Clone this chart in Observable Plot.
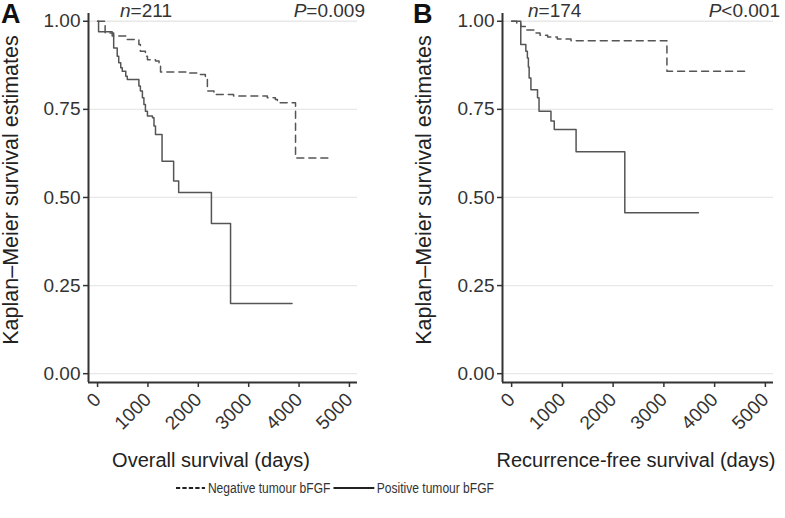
<!DOCTYPE html>
<html>
<head>
<meta charset="utf-8">
<script src="https://cdn.jsdelivr.net/npm/d3@7"></script>
<script src="https://cdn.jsdelivr.net/npm/@observablehq/plot@0.6"></script>
<style>
  html, body { margin: 0; padding: 0; background: #fff; }
  #wrap { position: relative; width: 785px; height: 518px; overflow: hidden; font-family: "Liberation Sans", Arial, sans-serif; color: #222; }
  #row { display: flex; }
  .panel { position: relative; }
  .letter { position: absolute; font-weight: bold; font-size: 27px; line-height: 1; top: 1px; color: #111; }
  .ann { position: absolute; font-size: 19px; line-height: 1; top: 1px; color: #333; white-space: nowrap; }
  #legend { position: absolute; top: 480px; left: 0; width: 670px; display: flex; justify-content: center; align-items: center; font-size: 14px; color: #333; transform: scaleX(0.86); transform-origin: 335px 50%; }
  #legend .item { display: flex; align-items: center; }
  #legend svg { margin: 0 3px 0 0; }
</style>
</head>
<body>
<div id="wrap">
  <div id="row">
    <div class="panel" id="pA"></div>
    <div class="panel" id="pB"></div>
  </div>
  <div id="legend"></div>
</div>
<script>
// ---------- data ----------
const panelLetters = ["A", "B"];
const nValues = ["211", "174"];
const pValues = ["=0.009", "<0.001"];
const xTitles = ["Overall survival (days)", "Recurrence-free survival (days)"];
const yTitle = "Kaplan\u2013Meier survival estimates";
const xTicks = [0, 1000, 2000, 3000, 4000, 5000];
const yTicks = [0, 0.25, 0.5, 0.75, 1];
const groups = ["Negative tumour bFGF", "Positive tumour bFGF"];

// Panel A: overall survival
const osNegDays = [0, 150, 320, 590, 820, 850, 950, 990, 1150, 1220, 1250, 1780, 2040, 2140, 2180, 2310, 2700, 3370, 3530, 3570, 3930, 4620];
const osNegSurv = [1, 0.967, 0.958, 0.948, 0.934, 0.915, 0.901, 0.891, 0.887, 0.877, 0.856, 0.853, 0.849, 0.839, 0.802, 0.792, 0.788, 0.783, 0.778, 0.769, 0.612, 0.612];
const osPosDays = [0, 20, 290, 320, 390, 420, 460, 490, 560, 590, 820, 850, 890, 920, 950, 990, 1090, 1120, 1150, 1280, 1510, 1610, 2260, 2640, 3860];
const osPosSurv = [1, 0.97, 0.958, 0.924, 0.901, 0.882, 0.868, 0.858, 0.844, 0.835, 0.816, 0.802, 0.783, 0.764, 0.745, 0.731, 0.726, 0.703, 0.679, 0.603, 0.547, 0.514, 0.426, 0.199, 0.199];

// Panel B: recurrence-free survival
const rfsNegDays = [0, 100, 180, 300, 440, 560, 710, 900, 1170, 3060, 4680];
const rfsNegSurv = [1, 0.995, 0.985, 0.975, 0.967, 0.96, 0.955, 0.95, 0.945, 0.858, 0.858];
const rfsPosDays = [0, 180, 280, 310, 330, 345, 380, 510, 540, 775, 840, 1270, 2230, 3680];
const rfsPosSurv = [1, 0.934, 0.915, 0.896, 0.87, 0.839, 0.806, 0.783, 0.745, 0.717, 0.693, 0.63, 0.457, 0.457];

// ---------- build ----------
const toRows = (days, surv) => days.map((d, i) => ({day: d, surv: surv[i]}));
const xDomain = [-180, 5160];
const yDomain = [-0.025, 1.022];
const lineColor = "#555";
const axisColor = "#333";
const dash = "7,5";

function panel(neg, pos, xTitle, layout) {
  return Plot.plot({
    width: layout.width,
    height: 480,
    marginLeft: layout.left,
    marginRight: layout.right,
    marginTop: 13,
    marginBottom: 98,
    style: {fontFamily: "Liberation Sans, Arial, sans-serif", background: "transparent", overflow: "visible"},
    x: {domain: xDomain},
    y: {domain: yDomain},
    marks: [
      Plot.gridY(yTicks, {stroke: "#e8e8e8", strokeOpacity: 1, strokeWidth: 1.3}),
      Plot.line(neg, {x: "day", y: "surv", curve: "step-after", stroke: lineColor, strokeWidth: 1.5, strokeDasharray: dash}),
      Plot.line(pos, {x: "day", y: "surv", curve: "step-after", stroke: lineColor, strokeWidth: 1.5}),
      Plot.ruleX([xDomain[0]], {stroke: axisColor, strokeWidth: 2}),
      Plot.ruleY([yDomain[0]], {stroke: axisColor, strokeWidth: 2}),
      Plot.axisY(yTicks, {tickFormat: d3.format(".2f"), tickSize: 5, tickPadding: 3, fontSize: 19, color: "#333", stroke: axisColor, strokeWidth: 1.5, label: null}),
      Plot.axisX(xTicks, {tickFormat: d => String(d), tickRotate: -45, tickSize: 5, tickPadding: 9, fontSize: 19, color: "#333", stroke: axisColor, strokeWidth: 1.5, label: null}),
      Plot.text([yTitle], {text: d => d, frameAnchor: "left", textAnchor: "middle", rotate: -90, dx: -layout.ytitleOffset, dy: -8, fontSize: 21.5, fill: "#222"}),
      Plot.text([xTitle], {text: d => d, frameAnchor: "bottom", dx: layout.xtitleShift, dy: 84, fontSize: 20, fill: "#222"})
    ]
  });
}

const layouts = [
  {width: 392, left: 88, right: 35, ytitleOffset: 77, xtitleShift: -12},
  {width: 393, left: 110, right: 12, ytitleOffset: 78, xtitleShift: -2}
];
const datasets = [
  [toRows(osNegDays, osNegSurv), toRows(osPosDays, osPosSurv)],
  [toRows(rfsNegDays, rfsNegSurv), toRows(rfsPosDays, rfsPosSurv)]
];
const containers = [document.getElementById("pA"), document.getElementById("pB")];
const letterLeft = [1, 21];
const nLeft = [120, 136];
const pRight = [27, 5];

containers.forEach((el, i) => {
  el.style.width = layouts[i].width + "px";
  el.appendChild(panel(datasets[i][0], datasets[i][1], xTitles[i], layouts[i]));
  const L = document.createElement("div");
  L.className = "letter"; L.textContent = panelLetters[i]; L.style.left = letterLeft[i] + "px";
  el.appendChild(L);
  const n = document.createElement("div");
  n.className = "ann"; n.innerHTML = "<i>n</i>=" + nValues[i]; n.style.left = nLeft[i] + "px";
  el.appendChild(n);
  const p = document.createElement("div");
  p.className = "ann"; p.innerHTML = "<i>P</i>" + pValues[i].replace("<", "&lt;"); p.style.right = pRight[i] + "px";
  el.appendChild(p);
});

// legend
const legend = document.getElementById("legend");
groups.forEach((g, i) => {
  const item = document.createElement("div");
  item.className = "item";
  const w = i === 0 ? 34 : 48;
  item.innerHTML = `<svg width="${w}" height="10"><line x1="0" x2="${w}" y1="5" y2="5" stroke="#222" stroke-width="1.8" ${i === 0 ? 'stroke-dasharray="5,2.5"' : ''}/></svg><span>${g}</span>`;
  item.style.marginLeft = i === 0 ? "0" : "3px";
  legend.appendChild(item);
});
</script>
</body>
</html>
